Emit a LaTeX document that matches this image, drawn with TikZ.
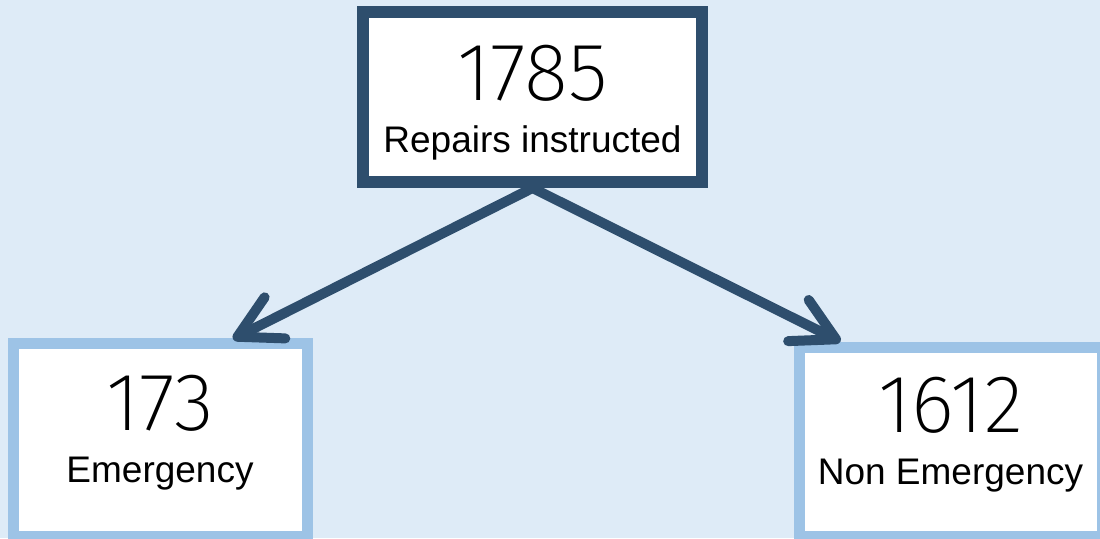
\documentclass[tikz,border=0pt]{standalone}
\usepackage{fontspec}
\usepackage{tikz}
\usetikzlibrary{arrows.meta,positioning}
\setmainfont{Liberation Sans}
\newfontfamily\numfont{Fira Sans ExtraLight}
\definecolor{PaleBg}{HTML}{DEEBF7}
\definecolor{DeepBlue}{HTML}{2E4E6D}
\definecolor{SkyBlue}{HTML}{9DC3E6}
\tikzset{
  CB/.style={rectangle,draw,fill=white,inner sep=0pt,
             text centered,align=center,
             font=\fontsize{18.5}{26}\selectfont},
  cTop/.style={CB,draw=DeepBlue,line width=6pt,text height=59pt},
  cSub/.style={CB,draw=SkyBlue,line width=5.5pt,text depth=11pt},
  arr/.style={-{Straight Barb[round,length=21pt,width=23pt]},
              line width=5pt,line cap=round,DeepBlue}
}
\newcommand{\bignum}[1]{{\numfont\fontsize{41}{26}\selectfont #1}}

\begin{document}
\begin{tikzpicture}[x=0.5pt,y=-0.5pt]
  \useasboundingbox (0,0) rectangle (1100,538);
  \fill[PaleBg] (0,0) rectangle (1100,538);
  \clip (0,0) rectangle (1100,538);

  \node[cTop,minimum width=169.5pt,minimum height=85pt] (total) at (532.5,97)
    {\bignum{1785}\\Repairs instructed};
  \node[cSub,minimum width=147pt,minimum height=96.5pt] (emerg) at (160,439.5)
    {\bignum{173}\\Emergency};
  \node[cSub,minimum width=151.5pt,minimum height=94.5pt] (nonemerg) at (950.5,441.5)
    {\bignum{1612}\\Non Emergency};

  \draw[arr](total.south)--([xshift=36.5pt,yshift=-0.75pt]emerg.north);
  \draw[arr](total.south)--([xshift=-55pt]nonemerg.north);
\end{tikzpicture}
\end{document}
